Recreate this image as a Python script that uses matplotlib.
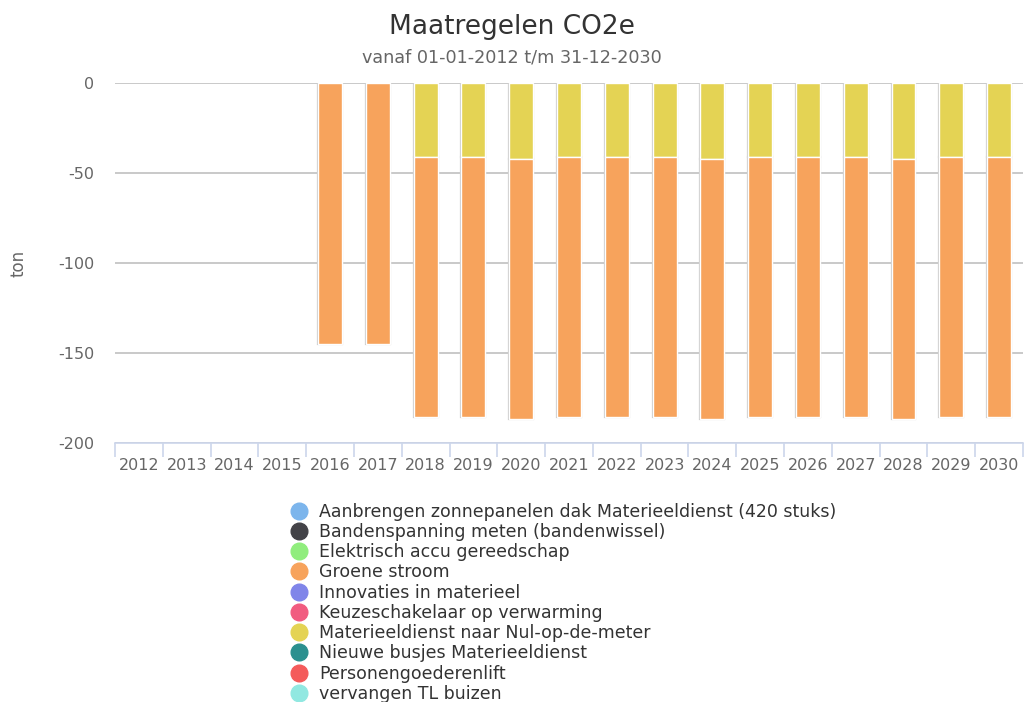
import numpy as np
import matplotlib
matplotlib.use('Agg')
import matplotlib.pyplot as plt
from matplotlib.lines import Line2D

plt.rcParams['axes.unicode_minus'] = False

years = [str(y) for y in range(2012, 2031)]

# ton CO2e per jaar (negatief = besparing)
groene_stroom = [0, 0, 0, 0, -144.8, -144.8, -144.5, -144.5, -144.5, -144.5,
                 -144.5, -144.5, -144.5, -144.5, -144.5, -144.5, -144.5, -144.5, -144.5]
nul_op_de_meter = [0, 0, 0, 0, 0, 0, -41.1, -41.1, -42.2, -41.1,
                   -41.1, -41.1, -42.2, -41.1, -41.1, -41.1, -42.2, -41.1, -41.1]

series_names = [
    'Aanbrengen zonnepanelen dak Materieeldienst (420 stuks)',
    'Bandenspanning meten (bandenwissel)',
    'Elektrisch accu gereedschap',
    'Groene stroom',
    'Innovaties in materieel',
    'Keuzeschakelaar op verwarming',
    'Materieeldienst naar Nul-op-de-meter',
    'Nieuwe busjes Materieeldienst',
    'Personengoederenlift',
    'vervangen TL buizen',
]
series_colors = ['#7cb5ec', '#434348', '#90ed7d', '#f7a35c', '#8085e9',
                 '#f15c80', '#e4d354', '#2b908f', '#f45b5b', '#91e8e1']

fig = plt.figure(figsize=(10.24, 7.02), dpi=100)
W, H = 1024, 702
ax = fig.add_axes([115 / W, 1 - 443 / H, 908 / W, 360 / H])

x = np.arange(len(years))
gs = np.array(groene_stroom)
nm = np.array(nul_op_de_meter)

# stacked: yellow on top (near 0), orange below; grey outline under a white border
m = gs != 0
for lw, ec, z in [(1.6, '#cccccc', 2), (1.0, 'white', 3)]:
    ax.bar(x[m], nm[m], width=0.5, color='#e4d354', edgecolor=ec, linewidth=lw, zorder=z)
    ax.bar(x[m], gs[m], bottom=nm[m], width=0.5, color='#f7a35c', edgecolor=ec, linewidth=lw, zorder=z)

ax.set_xlim(-0.5, len(years) - 0.5)
ax.set_ylim(-200, 0)
ax.set_yticks([0, -50, -100, -150, -200])
ax.yaxis.grid(True, color='#c0c0c0', linewidth=1.2)
ax.set_axisbelow(True)
for s in ['top', 'right', 'left']:
    ax.spines[s].set_visible(False)
ax.spines['bottom'].set_color('#ccd6eb')
ax.spines['bottom'].set_linewidth(1.2)
ax.spines['bottom'].set_zorder(4)

ax.tick_params(axis='y', length=0, pad=15, labelsize=11.5, labelcolor='#666666')
ax.set_xticks(x)
ax.set_xticklabels(years)
ax.tick_params(axis='x', which='major', length=0, pad=11, labelsize=11.5, labelcolor='#666666')
ax.set_xticks(np.arange(-0.5, len(years)), minor=True)
ax.tick_params(axis='x', which='minor', length=10, width=1.2, color='#ccd6eb')

ax.set_ylabel('ton', fontsize=12, color='#666666')
ax.yaxis.set_label_coords(-(115 - 28) / 908, 0.5)

fig.text(0.5, 1 - 27 / H, 'Maatregelen CO2e', ha='center', va='center', fontsize=19, color='#333333')
fig.text(0.5, 1 - 57 / H, 'vanaf 01-01-2012 t/m 31-12-2030', ha='center', va='center',
         fontsize=12.7, color='#666666')

handles = [Line2D([0], [0], marker='o', linestyle='', markersize=12, markerfacecolor=c,
                  markeredgecolor=c) for c in series_colors]
fig.legend(handles, series_names, loc='upper left', bbox_to_anchor=(280 / W, 1 - 494 / H),
           frameon=False, fontsize=12.5, labelspacing=0.13, handletextpad=0.55,
           borderpad=0, labelcolor='#333333', handlelength=1.2)

fig.savefig('out.png', dpi=100)
